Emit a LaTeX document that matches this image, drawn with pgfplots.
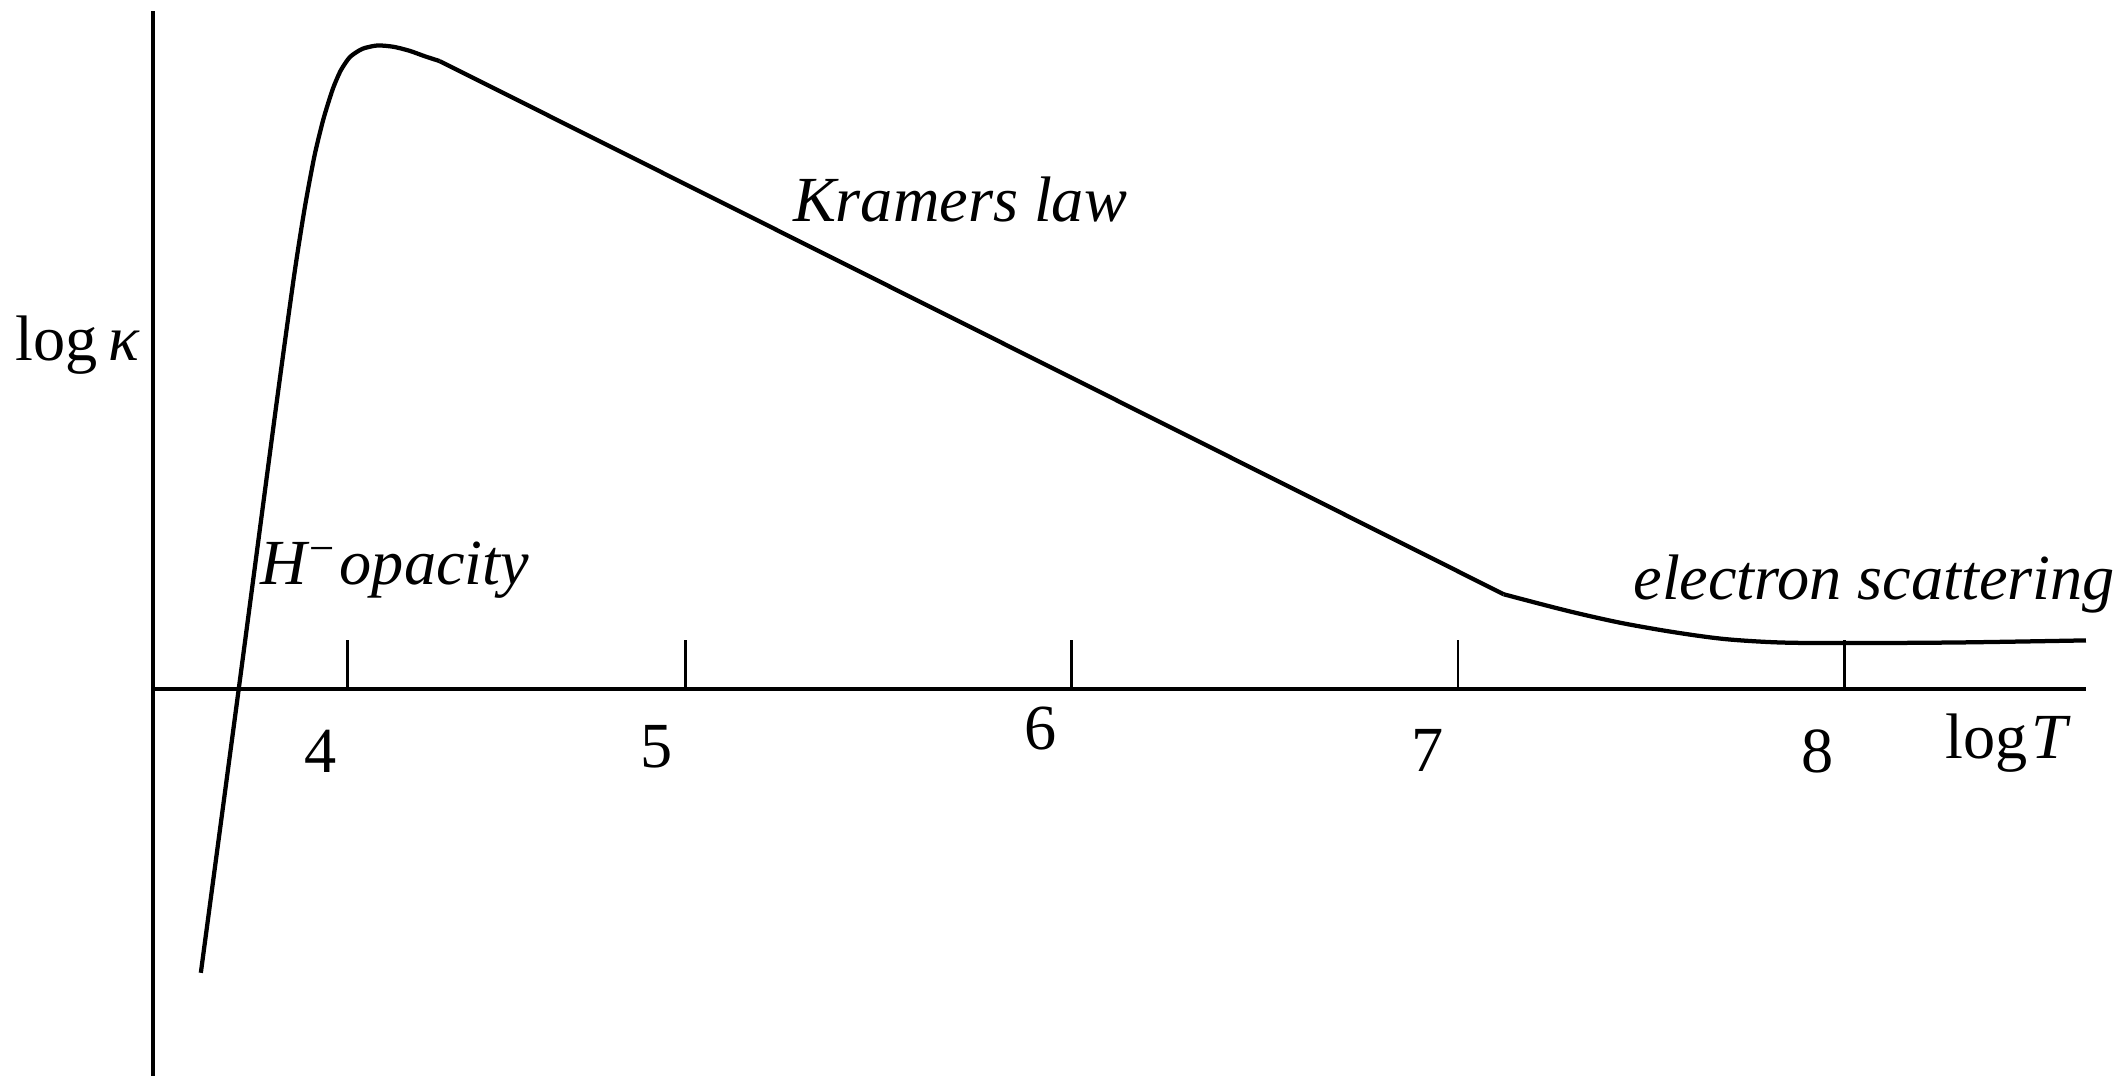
\documentclass[border=0pt]{standalone}
\usepackage{fontspec}
\setmainfont{Liberation Serif}
\usepackage{pgfplots}
\pgfplotsset{compat=1.18}

% Schematic Rosseland mean opacity versus temperature
\pgfplotstableread{
logT   logk
3.746  -2.09
3.844   0.00
3.943   2.13
3.988   3.06
4.015   3.55
4.040   3.93
4.063   4.20
4.087   4.42
4.108   4.56
4.132   4.66
4.164   4.72
4.203   4.745
4.245   4.735
4.287   4.705
4.326   4.665
4.364   4.63
}\hminus

\pgfplotstableread{
logT   logk
4.364  4.63
7.118  0.70
}\kramers

\pgfplotstableread{
logT   logk
7.118  0.70
7.28   0.58
7.42   0.49
7.56   0.42
7.69   0.37
7.83   0.345
8.00   0.34
8.30   0.345
8.625  0.36
}\escatter

\begin{document}
\begin{tikzpicture}[
  lbl/.style={font=\fontsize{12.86pt}{15pt}\selectfont, inner sep=0pt, outer sep=0pt, anchor=base},
]
\begin{axis}[
  scale only axis,
  width=386.5pt, height=213.0pt,
  xmin=3.623, xmax=8.625,
  ymin=-2.85, ymax=5.0,
  axis x line=middle,
  axis y line=left,
  axis line style={-, line width=0.75pt, black},
  every inner x axis line/.append style={-},
  every outer y axis line/.append style={-},
  xtick={4.125,5,6,7,8},
  xticklabels={},
  ytick=\empty,
  xtick align=inside,
  major tick length=9.77pt,
  tick style={line width=0.55pt, black},
  clip=false,
]
  \addplot[black, line width=0.85pt, smooth, tension=0.4, line join=round] table[x=logT, y=logk] {\hminus};
  \addplot[black, line width=0.85pt] table[x=logT, y=logk] {\kramers};
  \addplot[black, line width=0.85pt, smooth, tension=0.5, line join=round] table[x=logT, y=logk] {\escatter};

  % tick numbers
  \node[lbl] at (axis cs:4.055,-0.61) {4};
  \node[lbl] at (axis cs:4.925,-0.58) {5};
  \node[lbl] at (axis cs:5.919,-0.446) {6};
  \node[lbl] at (axis cs:6.921,-0.605) {7};
  \node[lbl] at (axis cs:7.931,-0.61) {8};

  % axis labels
  \node[lbl] at (axis cs:8.423,-0.51) {log\hspace{0.06em}\textit{T}};
  \node[lbl] at (axis cs:3.4264,2.42) {log\,\textit{κ}};

  % regime labels
  \node[lbl] at (axis cs:5.711,3.446) {\textit{Kramers law}};
  \node[lbl] at (axis cs:4.248,0.77) {\textit{H\textsuperscript{−}opacity}};
  \node[lbl] at (axis cs:8.077,0.66) {\textit{electron scattering}};

  % canvas extent
  \path (axis cs:3.2262,-2.86) rectangle (axis cs:8.7338,5.08);
\end{axis}
\end{tikzpicture}
\end{document}
